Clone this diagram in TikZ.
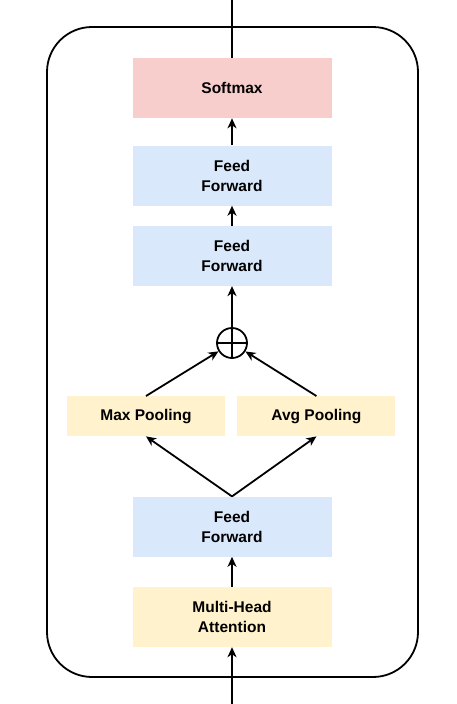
\documentclass[tikz,border=0pt]{standalone}
\usepackage{fontspec}
\usepackage{xcolor}
\usepackage{tikz}
\usetikzlibrary{arrows.meta,positioning}
\setmainfont{Liberation Sans}
\definecolor{softpink}{HTML}{F8CECC}
\definecolor{softblue}{HTML}{DAE8FC}
\definecolor{softyellow}{HTML}{FFF2CC}

\begin{document}
\begin{tikzpicture}[
    x=1pt, y=1pt,
    box/.style={align=center, minimum width=199pt, minimum height=60pt, inner sep=0pt, font=\fontsize{15.5}{20}\selectfont\bfseries},
    poolbox/.style={box, minimum width=158pt, minimum height=40pt, fill=softyellow},
    sumnode/.style={draw, circle, line width=1.8pt, minimum size=30pt, inner sep=0pt,
        path picture={\draw[line width=1.8pt] (path picture bounding box.north) -- (path picture bounding box.south)
            (path picture bounding box.west) -- (path picture bounding box.east);}},
    arr/.style={-{Stealth[length=10pt, width=9pt, inset=3pt]}, line width=1.8pt},
    plain/.style={line width=1.8pt}
]
\useasboundingbox (0,0) rectangle (457,-704);
\draw[plain, rounded corners=45pt] (47,-27) rectangle (418,-677);
\node[box, fill=softyellow] (mha) at (232,-617) {Multi-Head\\Attention};
\node[box, fill=softblue, above=30pt of mha] (ff1) {Feed\\Forward};
\node[poolbox, above=60pt of ff1, xshift=-86pt] (maxpool) {Max Pooling};
\node[poolbox, right=12pt of maxpool] (avgpool) {Avg Pooling};
\node[sumnode] (sum) at (232,-343) {};
\node[box, fill=softblue, above=41pt of sum] (ff2) {Feed\\Forward};
\node[box, fill=softblue, above=20pt of ff2] (ff3) {Feed\\Forward};
\node[box, fill=softpink, above=27pt of ff3] (softmax) {Softmax};
\coordinate (top) at (232,0);
\coordinate (bottom) at (232,-704);
\draw[arr] (bottom) -- (mha);
\draw[arr] (mha) -- (ff1);
\draw[arr] (ff1.north) -- (maxpool.south);
\draw[arr] (ff1.north) -- (avgpool.south);
\draw[arr] (maxpool.north) -- (sum);
\draw[arr] (avgpool.north) -- (sum);
\draw[arr] (sum) -- (ff2);
\draw[arr] (ff2) -- (ff3);
\draw[arr] (ff3) -- (softmax);
\draw[plain] (softmax) -- (top);
\end{tikzpicture}
\end{document}
